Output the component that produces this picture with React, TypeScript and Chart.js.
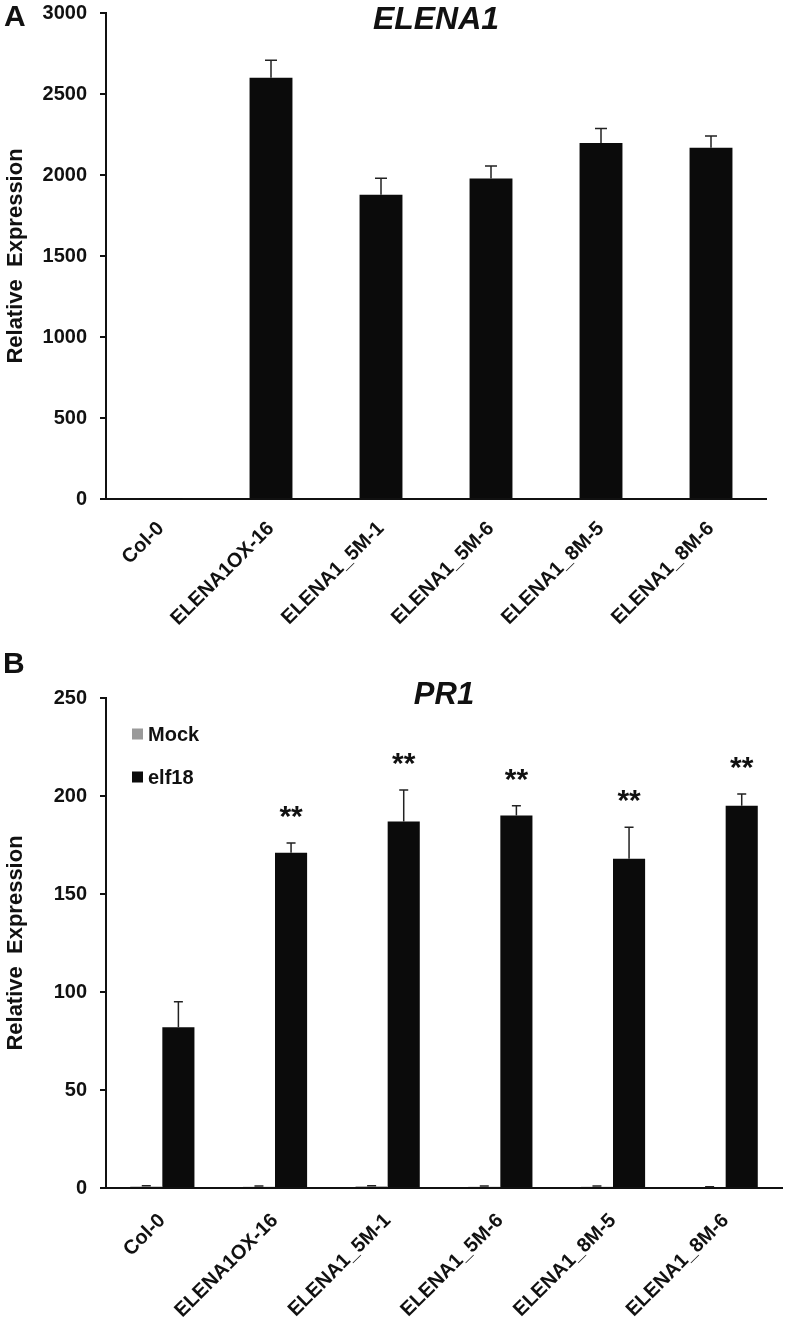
import React, { useEffect, useRef } from "react";
import { Chart, registerables } from "chart.js";

Chart.register(...registerables);

// ---------- data ----------
const categories = ["Col-0", "ELENA1OX-16", "ELENA1_5M-1", "ELENA1_5M-6", "ELENA1_8M-5", "ELENA1_8M-6"];

const elenaValues = [1, 2600, 1878, 1978, 2197, 2168];
const elenaErrors = [0, 108, 102, 77, 90, 72];

const mockValues = [0.8, 0.7, 0.9, 0.7, 0.7, 0.5];
const mockErrors = [0.3, 0.3, 0.3, 0.3, 0.3, 0.2];
const elf18Values = [82, 171, 187, 190, 168, 195];
const elf18Errors = [13, 5, 16, 5, 16, 6];
const elf18Significance = ["", "**", "**", "**", "**", "**"];

const seriesLabels = ["Mock", "elf18"];
const yTitle = "Relative  Expression";

const FONT = "'Liberation Sans', Arial, Helvetica, sans-serif";

// ---------- plugins ----------
const errorBarPlugin = {
  id: "errorBars",
  afterDatasetsDraw(chart: any, _a: any, opts: any) {
    const { ctx } = chart;
    const ys = chart.scales.y;
    (opts.errors || []).forEach((errs: number[] | null, di: number) => {
      if (!errs) return;
      const meta = chart.getDatasetMeta(di);
      const vals = chart.data.datasets[di].data as number[];
      meta.data.forEach((bar: any, j: number) => {
        const e = errs[j];
        if (!e) return;
        const v = vals[j];
        const yTop = ys.getPixelForValue(v + e);
        const yBase = ys.getPixelForValue(v);
        ctx.save();
        ctx.strokeStyle = opts.color || "#222";
        ctx.lineWidth = opts.lineWidth || 1.5;
        ctx.beginPath();
        ctx.moveTo(bar.x, yBase);
        ctx.lineTo(bar.x, yTop);
        ctx.moveTo(bar.x - opts.capWidth / 2, yTop);
        ctx.lineTo(bar.x + opts.capWidth / 2, yTop);
        ctx.stroke();
        ctx.restore();
      });
    });
  },
};

const starsPlugin = {
  id: "stars",
  afterDatasetsDraw(chart: any, _a: any, opts: any) {
    if (!opts || !opts.labels) return;
    const { ctx } = chart;
    const ys = chart.scales.y;
    const di = opts.datasetIndex;
    const meta = chart.getDatasetMeta(di);
    const vals = chart.data.datasets[di].data as number[];
    ctx.save();
    ctx.fillStyle = "#111";
    ctx.font = opts.font;
    ctx.textAlign = "center";
    ctx.textBaseline = "alphabetic";
    meta.data.forEach((bar: any, j: number) => {
      const lbl = opts.labels[j];
      if (!lbl) return;
      const top = ys.getPixelForValue(vals[j] + (opts.errors[j] || 0));
      ctx.fillText(lbl, bar.x, top - opts.gap);
    });
    ctx.restore();
  },
};

const textPlugin = {
  id: "texts",
  afterDraw(chart: any, _a: any, opts: any) {
    const { ctx } = chart;
    (opts.items || []).forEach((it: any) => {
      ctx.save();
      ctx.fillStyle = it.color || "#111";
      ctx.font = it.font;
      ctx.textAlign = it.align || "left";
      ctx.textBaseline = "middle";
      let x = it.x;
      if (it.centerOnArea) x = (chart.chartArea.left + chart.chartArea.right) / 2;
      ctx.fillText(it.text, x, it.y);
      ctx.restore();
    });
  },
};

const legendPlugin = {
  id: "customLegend",
  afterDraw(chart: any, _a: any, opts: any) {
    if (!opts || !opts.show) return;
    const { ctx } = chart;
    chart.data.datasets.forEach((ds: any, i: number) => {
      const y = opts.y + i * opts.spacing;
      ctx.save();
      ctx.fillStyle = ds.backgroundColor;
      ctx.fillRect(opts.x, y - opts.box / 2, opts.box, opts.box);
      ctx.fillStyle = "#111";
      ctx.font = opts.font;
      ctx.textAlign = "left";
      ctx.textBaseline = "middle";
      ctx.fillText(ds.label, opts.x + opts.box + 5, y + 1);
      ctx.restore();
    });
  },
};

// ---------- helpers ----------
function axisOptions(max: number, step: number, yWidth: number, xHeight: number, xPad: number) {
  return {
    x: {
      offset: true,
      grid: { display: false, drawTicks: false },
      border: { display: true, color: "#111", width: 2 },
      ticks: {
        color: "#111",
        font: { family: FONT, size: 20, weight: "bold" },
        maxRotation: 45,
        minRotation: 45,
        padding: xPad,
        autoSkip: false,
      },
      afterFit(scale: any) {
        scale.height = xHeight;
        scale.paddingLeft = 0;
        scale.paddingRight = 0;
      },
    },
    y: {
      min: 0,
      max,
      grid: { drawOnChartArea: false, drawTicks: true, tickLength: 6, color: "#111", lineWidth: 2 },
      border: { display: true, color: "#111", width: 2 },
      ticks: {
        stepSize: step,
        color: "#111",
        padding: 13,
        font: { family: FONT, size: 20, weight: "bold" },
        callback: (v: any) => String(v),
      },
      title: {
        display: true,
        text: yTitle,
        color: "#111",
        font: { family: FONT, size: 22, weight: "bold" },
        padding: { top: 3, bottom: 0 },
      },
      afterFit(scale: any) {
        scale.width = yWidth;
        scale.paddingTop = 0;
        scale.paddingBottom = 0;
      },
    },
  };
}

function ChartA() {
  const ref = useRef<HTMLCanvasElement>(null);
  useEffect(() => {
    const chart = new Chart(ref.current!, {
      type: "bar",
      data: {
        labels: categories,
        datasets: [
          {
            label: "ELENA1",
            data: elenaValues,
            backgroundColor: "#0b0b0b",
            categoryPercentage: 1,
            barPercentage: 0.39,
          },
        ],
      },
      options: {
        animation: false,
        responsive: false,
        devicePixelRatio: 1,
        layout: { padding: { top: 13, right: 23, left: 0, bottom: 0 } },
        plugins: {
          legend: { display: false },
          tooltip: { enabled: false },
          errorBars: { errors: [elenaErrors], capWidth: 12, color: "#222", lineWidth: 1.5 },
          texts: {
            items: [
              { text: "A", x: 4, y: 18, font: `bold 30px ${FONT}` },
              { text: "ELENA1", centerOnArea: true, align: "center", y: 20, font: `italic bold 32px ${FONT}` },
            ],
          },
        },
        scales: axisOptions(3000, 500, 106, 141, 18),
      } as any,
      plugins: [errorBarPlugin, textPlugin],
    });
    return () => chart.destroy();
  }, []);
  return <canvas ref={ref} width={789} height={640} style={{ display: "block", width: 789, height: 640 }} />;
}

function ChartB() {
  const ref = useRef<HTMLCanvasElement>(null);
  useEffect(() => {
    const chart = new Chart(ref.current!, {
      type: "bar",
      data: {
        labels: categories,
        datasets: [
          {
            label: seriesLabels[0],
            data: mockValues,
            backgroundColor: "#9a9a9a",
            categoryPercentage: 0.57,
            barPercentage: 1,
          },
          {
            label: seriesLabels[1],
            data: elf18Values,
            backgroundColor: "#0b0b0b",
            categoryPercentage: 0.57,
            barPercentage: 1,
          },
        ],
      },
      options: {
        animation: false,
        responsive: false,
        devicePixelRatio: 1,
        layout: { padding: { top: 58, right: 7, left: 0, bottom: 0 } },
        plugins: {
          legend: { display: false },
          tooltip: { enabled: false },
          errorBars: { errors: [mockErrors, elf18Errors], capWidth: 9, color: "#222", lineWidth: 1.5 },
          stars: {
            datasetIndex: 1,
            labels: elf18Significance,
            errors: elf18Errors,
            gap: 17,
            font: `bold 30px ${FONT}`,
          },
          customLegend: { show: true, x: 132, y: 94, spacing: 43, box: 11, font: `bold 20px ${FONT}` },
          texts: {
            items: [
              { text: "B", x: 3, y: 25, font: `bold 30px ${FONT}` },
              { text: "PR1", centerOnArea: true, align: "center", y: 55, font: `italic bold 31px ${FONT}` },
            ],
          },
        },
        scales: axisOptions(250, 50, 106, 134, 21),
      } as any,
      plugins: [errorBarPlugin, starsPlugin, legendPlugin, textPlugin],
    });
    return () => chart.destroy();
  }, []);
  return <canvas ref={ref} width={789} height={682} style={{ display: "block", width: 789, height: 682 }} />;
}

export default function App() {
  return (
    <div style={{ position: "absolute", left: 0, top: 0, width: 789, height: 1322, background: "#fff" }}>
      <ChartA />
      <ChartB />
    </div>
  );
}
